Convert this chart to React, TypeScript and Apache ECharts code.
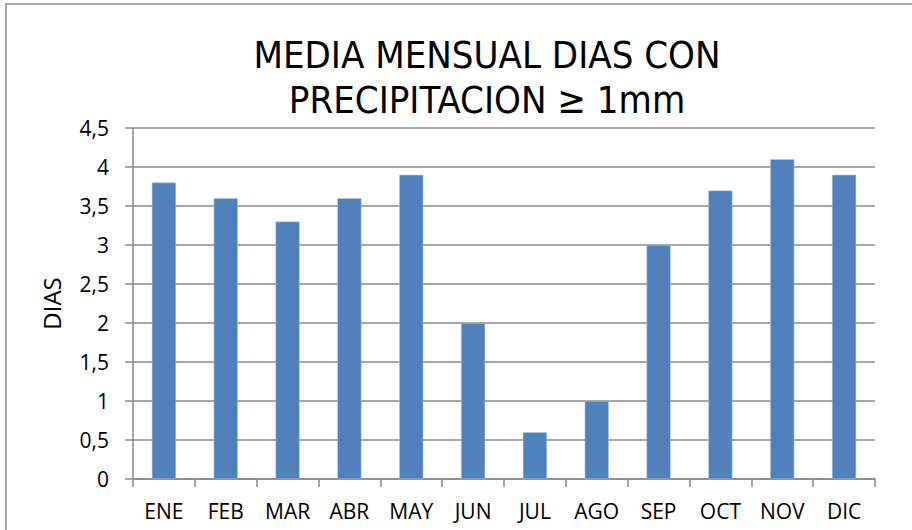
import React, { useEffect, useRef } from "react";
import * as echarts from "echarts";

const months = ["ENE", "FEB", "MAR", "ABR", "MAY", "JUN", "JUL", "AGO", "SEP", "OCT", "NOV", "DIC"];
const dias = [3.8, 3.6, 3.3, 3.6, 3.9, 2.0, 0.6, 1.0, 3.0, 3.7, 4.1, 3.9];
const titleLines = ["MEDIA MENSUAL DIAS CON", "PRECIPITACION \u2265 1mm"];
const yAxisName = "DIAS";

export default function App() {
  const ref = useRef<HTMLDivElement>(null);
  useEffect(() => {
    if (!ref.current) return;
    const chart = echarts.init(ref.current, null, { renderer: "svg" });
    const labelFont = "'Open Sans', 'Noto Sans', sans-serif";
    chart.setOption({
      animation: false,
      backgroundColor: "#ffffff",
      graphic: [
        {
          type: "rect",
          shape: { x: 6, y: 4, width: 1000, height: 600 },
          style: { fill: "none", stroke: "#8c8c8c", lineWidth: 1.5 },
          silent: true,
          z: -10,
        },
      ],
      title: {
        text: titleLines.join("\n"),
        left: 482,
        textAlign: "center",
        top: 27,
        textStyle: {
          fontFamily: "'DejaVu Sans Condensed', 'Liberation Sans Narrow', sans-serif",
          fontWeight: "normal",
          fontSize: 38,
          lineHeight: 45,
          color: "#000000",
        },
      },
      grid: { left: 133, right: 37, top: 128, bottom: 51 },
      xAxis: {
        type: "category",
        data: months,
        axisLine: { lineStyle: { color: "#888888", width: 1.5 } },
        axisTick: { show: true, length: 8, lineStyle: { color: "#888888", width: 1.5 } },
        axisLabel: { color: "#000000", fontSize: 21, fontFamily: labelFont, margin: 21 },
      },
      yAxis: {
        type: "value",
        min: 0,
        max: 4.5,
        interval: 0.5,
        name: yAxisName,
        nameLocation: "middle",
        nameGap: 70,
        nameRotate: 90,
        nameTextStyle: { color: "#000000", fontSize: 24, fontFamily: labelFont },
        axisLine: { show: true, lineStyle: { color: "#888888", width: 1.5 } },
        axisTick: { show: true, length: 8, lineStyle: { color: "#888888", width: 1.5 } },
        axisLabel: {
          color: "#000000",
          fontSize: 21,
          fontFamily: labelFont,
          margin: 24,
          formatter: (v: number) => String(v).replace(".", ","),
        },
        splitLine: { lineStyle: { color: "#888888", width: 1.5 } },
      },
      series: [
        {
          type: "bar",
          data: dias,
          barWidth: "39%",
          itemStyle: { color: "#4F81BD", borderColor: "#b9cde5", borderWidth: 0.5 },
        },
      ],
    });
    return () => chart.dispose();
  }, []);
  return (
    <div
      ref={ref}
      style={{ position: "fixed", left: 0, top: 0, width: 912, height: 530 }}
    />
  );
}
